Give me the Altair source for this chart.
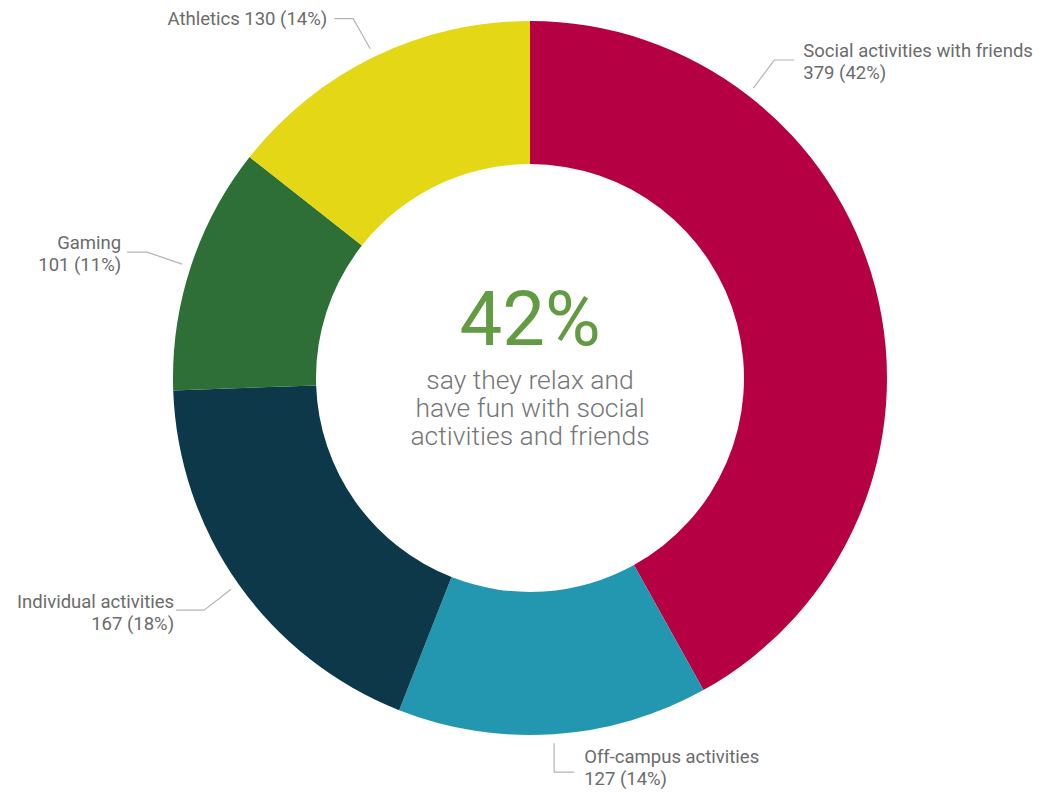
import math
import altair as alt
import pandas as pd

# ---- data ----
categories = ["Social activities with friends", "Off-campus activities",
              "Individual activities", "Gaming", "Athletics"]
values = [379, 127, 167, 101, 130]
label_line1 = ["Social activities with friends", "Off-campus activities",
               "Individual activities", "Gaming", "Athletics"]
colors = ["#B50043", "#2397B0", "#0C384A", "#2E6E37", "#E4D816"]
headline_sub = ["say they relax and", "have fun with social", "activities and friends"]

# ---- layout (annotation geometry, kept apart from the data) ----
W, H = 1026, 783
CX, CY = 522, 370
R_OUT, R_IN = 357, 214
R_LEAD = 366
# per label: angle override (deg) or None, elbow offset, horizontal run, text side, gap, text dy, single-line
layout = {
    "Social activities with friends": dict(angle=37.6, elbow=(21, -28), run=20, side="left", gap=9, dy=0, single=False),
    "Off-campus activities": dict(angle=None, elbow=(0, 29), run=20, side="left", gap=10, dy=-6, single=False),
    "Individual activities": dict(angle=None, elbow=(-27, 21), run=-28, side="right", gap=2, dy=1, single=False),
    "Gaming": dict(angle=None, elbow=(-35, -12), run=-20, side="right", gap=6, dy=0, single=False),
    "Athletics": dict(angle=None, elbow=(-17, -30), run=-19, side="right", gap=7, dy=0, single=True),
}

total = sum(values)
df = pd.DataFrame({"category": categories, "value": values,
                   "order": list(range(len(categories)))})

# leader lines and label texts, derived from the data
line_rows, text_rows = [], []
cum = 0
for cat, v, l1 in zip(categories, values, label_line1):
    mid = (cum + v / 2) / total * 360
    cum += v
    lay = layout[cat]
    ang = math.radians(lay["angle"] if lay["angle"] is not None else mid)
    ax, ay = CX + R_LEAD * math.sin(ang), CY - R_LEAD * math.cos(ang)
    ex, ey = ax + lay["elbow"][0], ay + lay["elbow"][1]
    fx, fy = ex + lay["run"], ey
    for i, (px, py) in enumerate([(ax, ay), (ex, ey), (fx, fy)]):
        line_rows.append({"category": cat, "pt": i, "x": px, "y": py})
    pct = round(v / total * 100)
    tx = fx + (lay["gap"] if lay["side"] == "left" else -lay["gap"])
    ty = fy + lay["dy"]
    if lay["single"]:
        text_rows.append({"x": tx, "y": ty, "text": f"{l1} {v} ({pct}%)", "side": lay["side"]})
    else:
        text_rows.append({"x": tx, "y": ty - 9, "text": l1, "side": lay["side"]})
        text_rows.append({"x": tx, "y": ty + 13, "text": f"{v} ({pct}%)", "side": lay["side"]})

lines_df = pd.DataFrame(line_rows)
texts_df = pd.DataFrame(text_rows)

share = round(values[0] / total * 100)
center_df = pd.DataFrame({"text": [f"{share}%"] + headline_sub,
                          "y": [314, 373, 401, 429],
                          "kind": ["big", "sub", "sub", "sub"]})

arc = alt.Chart(df).mark_arc(outerRadius=R_OUT, innerRadius=R_IN).encode(
    theta=alt.Theta("value:Q", stack=True),
    order=alt.Order("order:Q"),
    color=alt.Color("category:N", scale=alt.Scale(domain=categories, range=colors), legend=None),
    x=alt.value(CX), y=alt.value(CY),
)

leaders = alt.Chart(lines_df).mark_line(color="#b5b5b5", strokeWidth=1.2).encode(
    x=alt.X("x:Q", scale=None, axis=None),
    y=alt.Y("y:Q", scale=None, axis=None),
    detail="category:N",
    order=alt.Order("pt:Q"),
)

text_common = dict(font="Roboto", fontSize=18.5, color="#6b6b6b", baseline="middle")
labels_left = alt.Chart(texts_df).transform_filter(alt.datum.side == "left").mark_text(
    align="left", **text_common).encode(
    x=alt.X("x:Q", scale=None), y=alt.Y("y:Q", scale=None), text="text:N")
labels_right = alt.Chart(texts_df).transform_filter(alt.datum.side == "right").mark_text(
    align="right", **text_common).encode(
    x=alt.X("x:Q", scale=None), y=alt.Y("y:Q", scale=None), text="text:N")

big = alt.Chart(center_df).transform_filter(alt.datum.kind == "big").mark_text(
    font="Roboto", fontSize=76, color="#629B43", align="center", baseline="middle").encode(
    x=alt.value(CX), y=alt.Y("y:Q", scale=None), text="text:N")
sub = alt.Chart(center_df).transform_filter(alt.datum.kind == "sub").mark_text(
    font="Roboto", fontSize=26.5, fontWeight=300, color="#767676", align="center",
    baseline="middle").encode(
    x=alt.value(CX), y=alt.Y("y:Q", scale=None), text="text:N")

chart = alt.layer(arc, leaders, labels_left, labels_right, big, sub).properties(
    width=W, height=H, padding=0, background="white",
    autosize=alt.AutoSizeParams(type="none")
).configure_view(strokeWidth=0, strokeOpacity=0)

chart.save("out.html", embed_options={"renderer": "svg", "actions": False})
